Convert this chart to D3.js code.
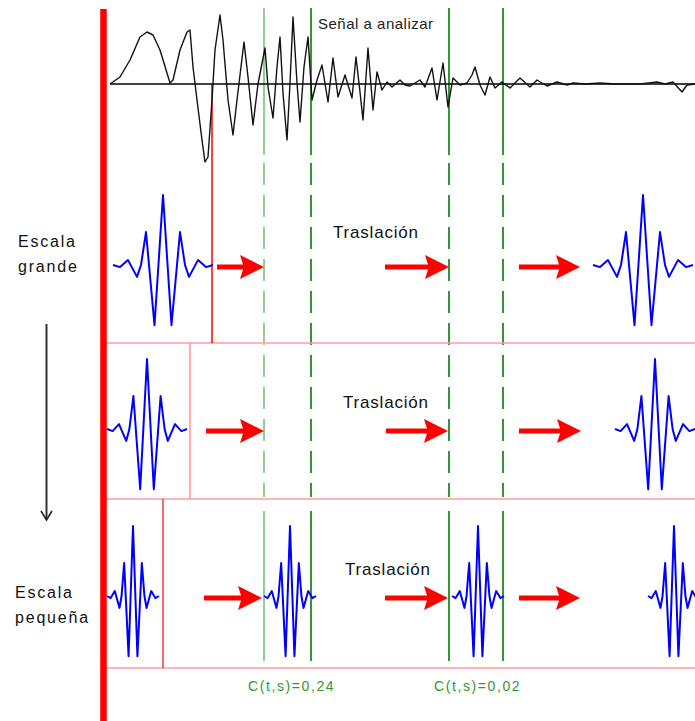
<!doctype html>
<html>
<head>
<meta charset="utf-8"/>
<title>Transformada wavelet: traslación y escala</title>
<script src="https://d3js.org/d3.v7.min.js"></script>
<style>
body { margin: 0; background: #fff; }
svg { display: block; font-family: "Liberation Sans", Arial, sans-serif; }
</style>
</head>
<body>
<script>
// señal a analizar: tiempo (muestras) y amplitud
var signalT = [0, 10, 20, 30, 37, 43, 50, 57, 60, 63, 70, 77, 80, 83, 87, 92, 95, 98, 102, 105,
  110, 113, 118, 123, 127, 134, 138, 143, 148, 155, 158, 163, 167, 170, 173, 177, 180, 183, 187, 190,
  194, 198, 202, 207, 212, 218, 223, 228, 235, 242, 246, 250, 253, 258, 263, 267, 272, 277, 282, 290,
  295, 300, 305, 310, 315, 322, 327, 333, 338, 343, 350, 357, 362, 365, 370, 375, 380, 385, 392, 400,
  410, 420, 427, 437, 447, 457, 463, 475, 490, 505, 530, 547, 555, 563, 572, 577, 585];
var signalA = [0, 7, 24, 47, 52, 49, 34, 11, 1, 4, 34, 52, 54, 17, -16, -56, -78, -73, -16, 34,
  69, 44, -16, -51, -16, 42, 7, -41, 0, 36, -3, -34, 17, 47, -9, -56, 1, 67, 1, -38,
  17, 47, -16, 4, 19, -18, 26, -13, 9, -14, 27, -8, -36, 36, -26, 12, -6, 2, -3, 4,
  -1, -2, 1, 4, -3, 16, -16, 21, -23, 6, -1, 1, 9, 17, -1, -11, 7, -4, 2, -4,
  6, -3, 4, -2, 2, -1, 1, 0, 1, 0, 0, 2, 0, 2, -8, -1, 0];

// forma de la wavelet (tiempo normalizado, amplitud normalizada)
var waveU = [-1, -0.86, -0.7, -0.52, -0.44, -0.34, -0.17, 0, 0.17, 0.34, 0.44, 0.52, 0.7, 0.86, 1];
var waveA = [0, -0.03, 0.07, -0.17, 0, 0.47, -0.86, 1, -0.86, 0.47, 0, -0.17, 0.07, -0.03, 0];

// escalas (semi-anchura de la wavelet) y posiciones de la wavelet en cada fila
var scales = [50, 40, 26];
var supportEnd = [102, 80, 53];
var waveletCentres = [[53, 533], [37, 545], [23, 180, 368, 564]];
var arrowFrom = [[107, 275, 409], [96, 276, 409], [94, 275, 409]];
var arrowTo = [[154, 339, 470], [154, 338, 471], [152, 338, 470]];
var labelT = [223, 233, 235];

// ventanas donde se calcula el coeficiente
var windowStart = [154, 339];
var windowEnd = [201, 393];
var coefLabels = ["C(t,s)=0,24", "C(t,s)=0,02"];

var scaleLabels = [["Escala", "grande"], ["Escala", "pequeña"]];
var moveLabel = "Traslación";
var signalTitle = "Señal a analizar";

var W = 695, H = 721;
var svg = d3.select("body").append("svg").attr("width", W).attr("height", H);
svg.append("rect").attr("width", W).attr("height", H).attr("fill", "#fff");

var x = d3.scaleLinear().domain([0, 585]).range([110, 695]);
var ySig = d3.scaleLinear().domain([-100, 100]).range([184, -16]);

// filas: línea base, bordes
var rowBase = [265, 429, 596];
var rowTop = [84, 343, 499];
var rowBottom = [343, 499, 668];
var rowLineColor = ["#ff0000", "#ff9494", "#e83a3a"];

// líneas verdes de las ventanas
var gLines = [];
windowStart.forEach(function (d, i) {
  gLines.push({ t: d, color: i == 0 ? "#66bb66" : "#1e8c1e", w: i == 0 ? 1.4 : 1.8 });
  gLines.push({ t: windowEnd[i], color: "#1e8c1e", w: 1.8 });
});
gLines.forEach(function (g) {
  var xx = x(g.t);
  svg.append("line").attr("x1", xx).attr("x2", xx).attr("y1", 8).attr("y2", 155)
    .attr("stroke", g.color).attr("stroke-width", g.w);
  svg.append("line").attr("x1", xx).attr("x2", xx).attr("y1", 163).attr("y2", 497)
    .attr("stroke", g.color).attr("stroke-width", g.w).attr("stroke-dasharray", "22,10");
  svg.append("line").attr("x1", xx).attr("x2", xx).attr("y1", 511).attr("y2", 661)
    .attr("stroke", g.color).attr("stroke-width", g.w);
});

// bordes rosados de las filas
[343, 499, 668].forEach(function (yy) {
  svg.append("line").attr("x1", 106).attr("x2", W).attr("y1", yy).attr("y2", yy)
    .attr("stroke", "#ff9c9c").attr("stroke-width", 1.6);
});
supportEnd.forEach(function (t, i) {
  svg.append("line").attr("x1", x(t)).attr("x2", x(t)).attr("y1", rowTop[i]).attr("y2", rowBottom[i])
    .attr("stroke", rowLineColor[i]).attr("stroke-width", 1.5);
});

// señal
svg.append("line").attr("x1", x(0)).attr("x2", W).attr("y1", ySig(0)).attr("y2", ySig(0))
  .attr("stroke", "#000").attr("stroke-width", 1.6);
var sigLine = d3.line().x(function (d, i) { return x(signalT[i]); }).y(function (d) { return ySig(d); });
svg.append("path").attr("d", sigLine(signalA)).attr("fill", "none")
  .attr("stroke", "#111").attr("stroke-width", 1.4).attr("stroke-linejoin", "round");

svg.append("text").attr("x", 318).attr("y", 29).text(signalTitle)
  .attr("font-size", 15).attr("letter-spacing", 0.5).attr("fill", "#222");

// wavelets
waveletCentres.forEach(function (cs, r) {
  var yW = d3.scaleLinear().domain([-1, 1]).range([rowBase[r] + 70, rowBase[r] - 70]);
  cs.forEach(function (c) {
    var wl = d3.line()
      .x(function (d, i) { return x(c + waveU[i] * scales[r]); })
      .y(function (d) { return yW(d); });
    svg.append("path").attr("d", wl(waveA)).attr("fill", "none")
      .attr("stroke", "#0000ff").attr("stroke-width", 2).attr("stroke-linejoin", "round");
  });
});

// flechas de traslación
function arrow(x0, x1, y) {
  var hl = 24, hh = 12, sh = 2.4;
  return "M" + x0 + "," + (y - sh) + "L" + (x1 - hl + 3) + "," + (y - sh) +
    "L" + (x1 - hl) + "," + (y - hh) + "L" + x1 + "," + y +
    "L" + (x1 - hl) + "," + (y + hh) + "L" + (x1 - hl + 3) + "," + (y + sh) +
    "L" + x0 + "," + (y + sh) + "Z";
}
arrowFrom.forEach(function (row, r) {
  row.forEach(function (t0, k) {
    svg.append("path").attr("d", arrow(x(t0), x(arrowTo[r][k]), rowBase[r] + 2))
      .attr("fill", "#ff0000");
  });
  svg.append("text").attr("x", x(labelT[r])).attr("y", [238, 408, 575][r]).text(moveLabel)
    .attr("font-size", 17).attr("letter-spacing", 0.8).attr("fill", "#111");
});

// coeficientes
coefLabels.forEach(function (c, i) {
  svg.append("text").attr("x", x(windowStart[i]) - 16 + i * 1).attr("y", 691).text(c)
    .attr("font-size", 14).attr("letter-spacing", 1.6).attr("fill", "#2f9a2f");
});

// eje de escala a la izquierda
svg.append("line").attr("x1", 103.5).attr("x2", 103.5).attr("y1", 9).attr("y2", H)
  .attr("stroke", "#ff0000").attr("stroke-width", 6.5);
svg.append("line").attr("x1", 46.5).attr("x2", 46.5).attr("y1", 324).attr("y2", 519)
  .attr("stroke", "#333").attr("stroke-width", 2);
svg.append("path").attr("d", "M41,511L46.5,520L52,511").attr("fill", "none")
  .attr("stroke", "#222").attr("stroke-width", 1.6);

var labY = [[247, 272], [598, 623]];
var labX = [18, 15];
scaleLabels.forEach(function (lines, i) {
  lines.forEach(function (s, k) {
    svg.append("text").attr("x", labX[i]).attr("y", labY[i][k]).text(s)
      .attr("font-size", 16).attr("letter-spacing", 1.8).attr("fill", "#111");
  });
});
</script>
</body>
</html>
